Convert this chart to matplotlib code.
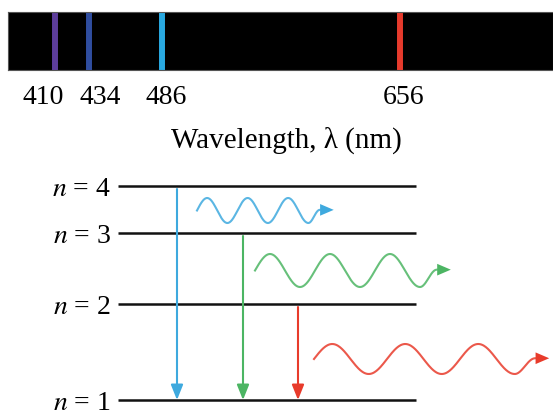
import numpy as np
import matplotlib.pyplot as plt

plt.rcParams['font.family'] = ['Liberation Serif', 'DejaVu Serif']
plt.rcParams['mathtext.fontset'] = 'stix'

# Hydrogen emission lines (nm)
wavelengths = [410, 434, 486, 656]
line_colors = ['#5d3d9b', '#2f4d9f', '#29a9e1', '#e63a2c']
label_shift = [-12, 11, 4, 4]  # px nudge of the tick labels

# Energy levels (diagram units, up from n = 1)
levels = [1, 2, 3, 4]
level_height = [0, 96, 167, 214]

# Transitions shown (upper -> lower), colour, x of the arrow
transitions = [(4, 1), (3, 1), (2, 1)]
trans_colors = ['#3ea9de', '#4cb563', '#e83b2b']
arrow_x = [177, 243, 298]

# Emitted photons: start x, centre height, period, amplitude
wave_x0 = [197, 255, 314]
wave_y0 = [189.5, 129.5, 41]
wave_period = [40.5, 60, 73]
wave_amp = [12.5, 16.5, 15]

fig = plt.figure(figsize=(5.53, 4.11), dpi=100)

# --- spectrum strip ---
ax_s = fig.add_axes([8 / 553, 1 - 70 / 411, 545 / 553, 58 / 411])
ax_s.set_facecolor('black')
for wl, c in zip(wavelengths, line_colors):
    ax_s.axvline(wl, color=c, lw=4.3)
ax_s.set_xlim(376.1, 765.3)
ax_s.set_ylim(0, 1)
ax_s.set_xticks([])
ax_s.set_yticks([])
for sp in ax_s.spines.values():
    sp.set_color('#555555')
    sp.set_linewidth(0.8)
for wl, dx in zip(wavelengths, label_shift):
    ax_s.annotate(str(wl), xy=(wl, 0), xytext=(dx * 0.72, -24.5),
                  textcoords='offset points', ha='center', va='baseline',
                  fontsize=20, annotation_clip=False)

# --- energy level diagram (x, y in diagram units) ---
ax = fig.add_axes([0, 0, 1, 1])
ax.set_xlim(0, 553)
ax.set_ylim(-11, 400)
ax.axis('off')
ax.patch.set_alpha(0)

ax.text(286, 252, 'Wavelength, λ (nm)', ha='center', va='baseline', fontsize=21)

for n, h in zip(levels, level_height):
    ax.plot([118, 416], [h, h], color='#111111', lw=1.8, solid_capstyle='butt')
    ax.text(111, h, '$n$ = %d' % n, ha='right', va='center_baseline', fontsize=20)

for (hi, lo), c, x in zip(transitions, trans_colors, arrow_x):
    y_hi = level_height[levels.index(hi)]
    y_lo = level_height[levels.index(lo)]
    ax.annotate('', xy=(x, y_lo), xytext=(x, y_hi - 3),
                arrowprops=dict(arrowstyle='-|>,head_length=0.65,head_width=0.26',
                                mutation_scale=14, color=c, lw=1.5,
                                shrinkA=0, shrinkB=0))

for x0, y0, p, a, c in zip(wave_x0, wave_y0, wave_period, wave_amp, trans_colors):
    xs = np.linspace(x0, x0 + 2.75 * p, 300)
    ys = y0 + a * np.sin(2 * np.pi * (xs - x0) / p)
    # tail eases out of the last trough to a flat end
    tx = np.linspace(0, 1, 40)
    xt = xs[-1] + tx * 0.28 * p
    yt = y0 - a + a * 1.05 * (1 - np.cos(np.pi * tx)) / 2
    xw = np.concatenate([xs, xt])
    yw = np.concatenate([ys, yt])
    ax.plot(xw, yw, color=c, lw=1.5, alpha=0.85)
    ax.annotate('', xy=(xw[-1] + 14, yw[-1]), xytext=(xw[-1] - 1, yw[-1]),
                arrowprops=dict(arrowstyle='-|>,head_length=0.7,head_width=0.3',
                                mutation_scale=14, color=c, lw=0,
                                shrinkA=0, shrinkB=0))

fig.savefig('out.png', dpi=100)
